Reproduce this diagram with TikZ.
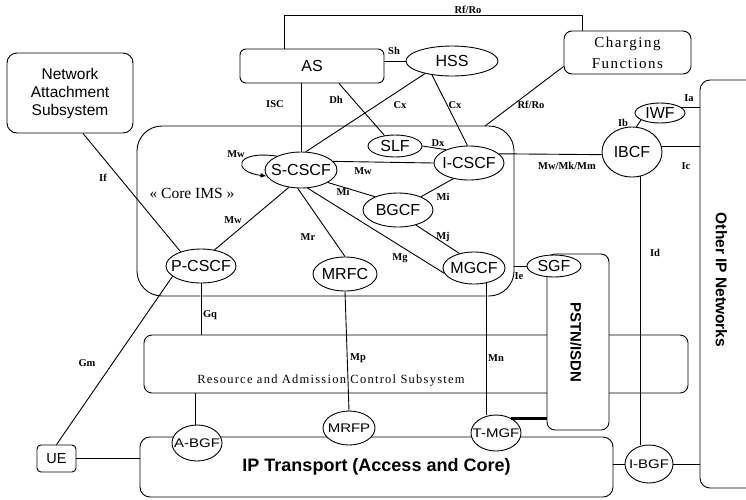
\documentclass[tikz,border=0pt]{standalone}
\usepackage{fontspec}
\setmainfont{Liberation Serif}
\setsansfont{Liberation Sans}
\newfontfamily\spacedserif[LetterSpace=10]{Liberation Serif}
\usepackage{graphicx}
\usepackage{tikz}
\usetikzlibrary{arrows.meta, shapes.geometric}

% keeps the ellipse size independent of the name inside it
\newcommand{\fnname}[1]{\makebox[0pt]{#1}}
% gateway names are set low and wide
\newcommand{\gwname}[1]{\makebox[0pt]{\scalebox{1.2}[1]{#1}}}

\begin{document}
\begin{tikzpicture}[x=1pt, y=-1pt, line width=0.9pt,
    fn/.style={ellipse, draw, fill=white, inner sep=0pt, font=\sffamily\fontsize{16}{18}\selectfont},
    smallfn/.style={fn, font=\sffamily\fontsize{12.5}{14}\selectfont},
    subsys/.style={rectangle, draw, rounded corners=8pt, inner sep=0pt, align=center},
    iface/.style={font=\bfseries\fontsize{10.5}{12}\selectfont, inner sep=0pt}]
    \fill[white] (0,0) rectangle (746,499);
    \useasboundingbox (0,0) rectangle (746,499);

    % Subsystems
    \node[subsys, rounded corners=10pt, minimum width=126pt, minimum height=80pt,
          font=\sffamily\fontsize{15.5}{18}\selectfont] (nas) at (70,93) {Network\\Attachment\\Subsystem};
    \node[subsys, rounded corners=6pt, minimum width=144pt, minimum height=34pt,
          font=\sffamily\fontsize{16}{18}\selectfont] (as) at (312,66) {AS};
    \node[subsys, minimum width=127pt, minimum height=43pt,
          font=\spacedserif\fontsize{15}{21}\selectfont] (charging) at (627.5,52.5) {Charging\\Functions};
    \node[subsys, rounded corners=25pt, minimum width=377pt, minimum height=170pt] (ims) at (325.5,211) {};
    \node[font=\fontsize{15.5}{17}\selectfont] (imslabel) at (192,193) {« Core IMS »};
    \node[subsys, minimum width=544pt, minimum height=58pt] (racs) at (416,364) {};
    \node[font=\spacedserif\fontsize{12.5}{14}\selectfont] (racslabel) at (331,381) {Resource and Admission Control Subsystem};
    \node[subsys, rounded corners=10pt, minimum width=473pt, minimum height=60pt,
          font=\sffamily\bfseries\fontsize{18}{20}\selectfont] (iptrans) at (376.5,467) {IP Transport (Access and Core)};
    \node[subsys, rounded corners=4pt, minimum width=39pt, minimum height=27pt,
          font=\sffamily\fontsize{14.5}{16}\selectfont] (ue) at (56.5,458.5) {UE};
    \node[subsys, rounded corners=10pt, minimum width=90pt, minimum height=408pt] (other) at (745,284) {};
    \node[rotate=-90, font=\sffamily\bfseries\fontsize{15.5}{17}\selectfont] (otherlabel) at (721.5,280) {Other IP Networks};
    \node[subsys, fill=white, minimum width=62pt, minimum height=176pt] (pstn) at (578,342) {};
    \node[rotate=-90, font=\sffamily\bfseries\fontsize{15}{17}\selectfont] (pstnlabel) at (576,342) {PSTN/ISDN};

    % Functional entities
    \node[fn, minimum width=92pt, minimum height=30pt] (hss) at (452,61) {\fnname{HSS}};
    \node[fn, minimum width=72pt, minimum height=36pt] (scscf) at (301,170) {\fnname{S-CSCF}};
    \node[fn, minimum width=70pt, minimum height=34pt] (icscf) at (469,163) {\fnname{I-CSCF}};
    \node[fn, minimum width=54pt, minimum height=22pt] (slf) at (395,146) {\fnname{SLF}};
    \node[fn, minimum width=70pt, minimum height=34pt] (bgcf) at (398,210) {\fnname{BGCF}};
    \node[fn, minimum width=62pt, minimum height=32pt] (mgcf) at (474,268) {\fnname{MGCF}};
    \node[fn, minimum width=64pt, minimum height=34pt] (mrfc) at (345,274) {\fnname{MRFC}};
    \node[fn, minimum width=70pt, minimum height=34pt] (pcscf) at (201,266) {\fnname{P-CSCF}};
    \node[fn, minimum width=54pt, minimum height=22pt] (sgf) at (554,266) {\fnname{SGF}};
    \node[fn, minimum width=60pt, minimum height=50pt] (ibcf) at (632,152) {\fnname{IBCF}};
    \node[fn, minimum width=50pt, minimum height=20pt] (iwf) at (660,113) {\fnname{IWF}};
    \node[smallfn, minimum width=50pt, minimum height=36pt] (abgf) at (197,443) {\gwname{A-BGF}};
    \node[smallfn, minimum width=52pt, minimum height=34pt] (mrfp) at (349,428) {\gwname{MRFP}};
    \node[smallfn, minimum width=50pt, minimum height=36pt] (tmgf) at (496,433) {\gwname{T-MGF}};
    \node[smallfn, minimum width=48pt, minimum height=38pt] (ibgf) at (649,464) {\gwname{I-BGF}};

    \coordinate (imsrf) at (485,126);

    % Interfaces
    \draw ([xshift=-28pt]as.north) -- ++(0,-33) -| ([xshift=-45.5pt]charging.north);
    \draw (as.east |- hss.west) -- (hss.west);
    \draw (scscf.north |- as.south) -- (scscf.north);
    \draw ([xshift=27pt]as.south) -- (slf.135);
    \draw (hss.205) -- (scscf.75);
    \draw (hss.215) -- (icscf.95);
    \draw ([yshift=-14pt]charging.west) -- (imsrf);
    \draw (slf.east) -- (icscf.150);
    \draw (scscf.15) -- (icscf.west);
    \draw (scscf.335) -- (bgcf.150);
    \draw (icscf.225) -- (bgcf.30);
    \draw (bgcf.320) -- (mgcf.135);
    \draw (scscf.290) -- (mgcf.190);
    \draw (scscf.260) -- (mrfc.north);
    \draw (scscf.235) -- (pcscf.50);
    \draw[-{Latex[length=6pt]}] (scscf.150) .. controls (234,150) and (232,172) .. (scscf.190);
    \draw ([xshift=13pt]nas.south) -- (pcscf.145);
    \draw (pcscf.200) -- (ue.north);
    \draw (ue.east) -- (ue.east -| iptrans.west);
    \draw (pcscf.south) -- (pcscf.south |- racs.north);
    \draw (abgf.95 |- racs.south) -- (abgf.95);
    \draw (mrfc.south) -- (mrfp.north);
    \draw (mgcf.310) -- (mgcf.310 |- tmgf.north);
    \draw[line width=3pt] (tmgf.45) -- (tmgf.45 -| pstn.west);
    \draw (ims.east |- sgf.west) -- (sgf.west);
    \draw (icscf.17) -- (ibcf.185);
    \draw (ibcf.80) -- (iwf.200);
    \draw (iwf.15) -- (iwf.15 -| other.west);
    \draw[line width=1.4pt] (ibcf.10) -- (ibcf.10 -| other.west);
    \draw (ibcf.290) -- (ibcf.290 |- ibgf.north);
    \draw (ibgf.west -| iptrans.east) -- (ibgf.west);
    \draw (ibgf.east) -- (ibgf.east -| other.west);

    % Interface names
    \node[iface] at (468,10) {Rf/Ro};
    \node[iface] at (394,51) {Sh};
    \node[iface] at (275,104) {ISC};
    \node[iface] at (336,100) {Dh};
    \node[iface] at (400,105) {Cx};
    \node[iface] at (455,105) {Cx};
    \node[iface] at (531,105) {Rf/Ro};
    \node[iface] at (438,143) {Dx};
    \node[iface] at (363,171) {Mw};
    \node[iface] at (236,154) {Mw};
    \node[iface] at (343,192) {Mi};
    \node[iface] at (443,197) {Mi};
    \node[iface] at (443,237) {Mj};
    \node[iface] at (400,258) {Mg};
    \node[iface] at (308,237) {Mr};
    \node[iface] at (233,220) {Mw};
    \node[iface] at (103,178) {If};
    \node[iface] at (210,315) {Gq};
    \node[iface] at (87,363) {Gm};
    \node[iface] at (358,358) {Mp};
    \node[iface] at (496,358) {Mn};
    \node[iface] at (519,276) {Ie};
    \node[iface] at (567,166) {Mw/Mk/Mm};
    \node[iface] at (623,123) {Ib};
    \node[iface] at (689,98) {Ia};
    \node[iface] at (686,166) {Ic};
    \node[iface] at (655,253) {Id};
\end{tikzpicture}
\end{document}
